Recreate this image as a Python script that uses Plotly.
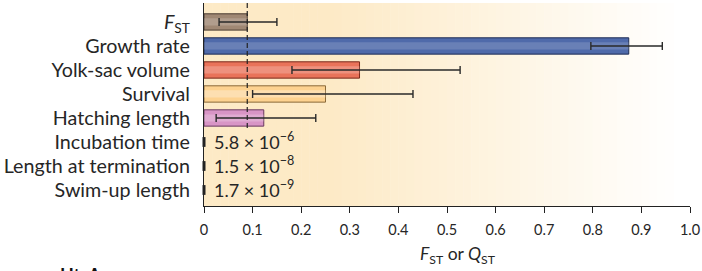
import plotly.graph_objects as go

categories = ["<i>F</i><sub>ST</sub>", "Growth rate", "Yolk-sac volume", "Survival",
              "Hatching length", "Incubation time", "Length at termination", "Swim-up length"]
values = [0.089, 0.874, 0.320, 0.250, 0.123, 5.8e-6, 1.5e-8, 1.7e-9]
err_low = [0.031, 0.796, 0.181, 0.100, 0.025, None, None, None]
err_high = [0.150, 0.943, 0.527, 0.430, 0.230, None, None, None]
value_labels = [None, None, None, None, None,
                "5.8 × 10<sup>−6</sup>", "1.5 × 10<sup>−8</sup>", "1.7 × 10<sup>−9</sup>"]
fst_line = 0.089
x_ticks = [0, 0.1, 0.2, 0.3, 0.4, 0.5, 0.6, 0.7, 0.8, 0.9, 1.0]
x_tick_text = ["0", "0.1", "0.2", "0.3", "0.4", "0.5", "0.6", "0.7", "0.8", "0.9", "1.0"]
x_title = "<i>F</i><sub>ST</sub> or <i>Q</i><sub>ST</sub>"
panel_label = "<b>Ht. Aur</b>"

fill_colors = ["#A08874", "#4F6AAA", "#E9735A", "#FDD290", "#D895C6", "#FDD290", "#FDD290", "#FDD290"]
edge_colors = ["#4A3B30", "#1F2D55", "#7A2A1C", "#8A6A3A", "#6A3A5E", "#333333", "#333333", "#333333"]
hi_colors = ["rgba(255,255,255,0.18)", "rgba(255,255,255,0.15)", "rgba(255,255,255,0.22)",
             "rgba(255,255,255,0.3)", "rgba(255,255,255,0.22)"]

font = "Lato"
txt = "#262626"
fig = go.Figure()

# background gradient (light orange -> white)
n = 60
for i in range(n):
    x0 = i / n
    x1 = (i + 1) / n
    t = max(0.0, (x0 - 0.25) / 0.72)
    t = min(1.0, t)
    r = 253 + (255 - 253) * t
    g = 234 + (255 - 234) * t
    b = 198 + (255 - 198) * t
    fig.add_shape(type="rect", xref="x", yref="paper", x0=x0, x1=x1 + 0.001, y0=0, y1=1,
                  fillcolor=f"rgb({r:.0f},{g:.0f},{b:.0f})", line_width=0, layer="below")

main_idx = [i for i in range(len(values)) if err_low[i] is not None]
fig.add_trace(go.Bar(
    y=[categories[i] for i in main_idx],
    x=[values[i] for i in main_idx],
    orientation="h",
    width=0.68,
    marker=dict(color=[fill_colors[i] for i in main_idx],
                line=dict(color=[edge_colors[i] for i in main_idx], width=1)),
    showlegend=False, hoverinfo="skip",
))
# highlight stripe to imitate glossy bars
fig.add_trace(go.Bar(
    y=[categories[i] for i in main_idx],
    x=[values[i] for i in main_idx],
    orientation="h",
    width=0.3,
    marker=dict(color=hi_colors, line=dict(width=0)),
    showlegend=False, hoverinfo="skip",
))
# error bars
fig.add_trace(go.Scatter(
    y=[categories[i] for i in main_idx],
    x=[values[i] for i in main_idx],
    mode="markers",
    marker=dict(size=1, color="rgba(0,0,0,0)"),
    error_x=dict(type="data", symmetric=False,
                 array=[err_high[i] - values[i] for i in main_idx],
                 arrayminus=[values[i] - err_low[i] for i in main_idx],
                 color="#2a2a2a", thickness=1.4, width=4),
    showlegend=False, hoverinfo="skip",
))

small_idx = [i for i in range(len(values)) if err_low[i] is None]
fig.add_trace(go.Scatter(
    y=[categories[i] for i in small_idx],
    x=[values[i] for i in small_idx],
    mode="markers",
    marker=dict(symbol="line-ns", size=7, line=dict(color="#222222", width=3)),
    showlegend=False, hoverinfo="skip",
    cliponaxis=False,
))
for i in small_idx:
    fig.add_annotation(x=values[i], y=categories[i], text=value_labels[i], showarrow=False,
                       xanchor="left", xshift=8, yshift=1,
                       font=dict(family=font, size=18, color=txt))

# dashed FST reference line (spans the measured traits only)
fig.add_shape(type="line", xref="x", yref="y", x0=fst_line, x1=fst_line, y0=2.58, y1=7.79,
              line=dict(color="#222222", width=1.2, dash="5px,3px"), layer="above")

# x-axis title
fig.add_annotation(xref="paper", yref="paper", x=0.523, y=-0.24, xanchor="center", yanchor="middle",
                   text=x_title, showarrow=False,
                   font=dict(family=font, size=17.5, color=txt))

fig.add_annotation(xref="paper", yref="paper", x=-0.3, y=-0.275, xanchor="left", yanchor="top",
                   text=panel_label, showarrow=False,
                   font=dict(family=font, size=18, color="#111111"))

fig.update_layout(
    width=702, height=271,
    margin=dict(l=204, r=12, t=3, b=65, autoexpand=False),
    paper_bgcolor="white", plot_bgcolor="white",
    barmode="overlay",
    font=dict(family=font, size=15, color=txt),
    xaxis=dict(range=[0, 1.0], tickvals=x_ticks, ticktext=x_tick_text, automargin=False,
               ticks="outside", ticklen=6, tickcolor="#222222", tickwidth=1,
               showline=True, linecolor="#222222", linewidth=1.2,
               showgrid=False, zeroline=False, ticklabelstandoff=4,
               tickfont=dict(family=font, size=14.5, color=txt)),
    yaxis=dict(categoryorder="array", categoryarray=categories[::-1], automargin=False,
               range=[-0.667, 7.79], showline=True, linecolor="#222222", linewidth=1.2,
               showgrid=False, zeroline=False, ticks="", ticklabelstandoff=9,
               tickfont=dict(family=font, size=19.7, color=txt)),
)

fig.write_html("out.html", config={"displayModeBar": False},
               post_script="document.body.style.margin='0';")
